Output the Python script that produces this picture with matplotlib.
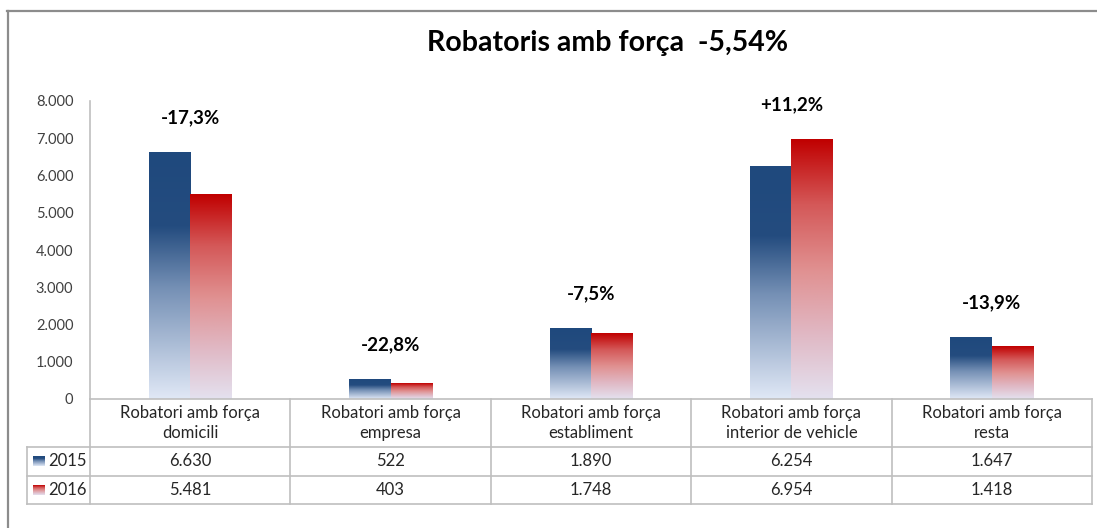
import numpy as np
import matplotlib
matplotlib.use('Agg')
import matplotlib.pyplot as plt
from matplotlib.colors import LinearSegmentedColormap
from matplotlib.lines import Line2D

plt.rcParams['font.family'] = ['Lato', 'DejaVu Sans']

CATEGORIES = ['Robatori amb força\ndomicili',
              'Robatori amb força\nempresa',
              'Robatori amb força\nestabliment',
              'Robatori amb força\ninterior de vehicle',
              'Robatori amb força\nresta']
YEARS = ['2015', '2016']
V2015 = [6630, 522, 1890, 6254, 1647]
V2016 = [5481, 403, 1748, 6954, 1418]
YTICKS = [0, 1000, 2000, 3000, 4000, 5000, 6000, 7000, 8000]

W, H = 1097, 528
GRID = '#bfbfbf'
TXT = '#262626'

BLUE_CM = LinearSegmentedColormap.from_list(
    'blue', [(0, '#e0e8f6'), (0.45, '#7590b5'), (0.70, '#244c7f'), (1, '#1f497d')])
RED_CM = LinearSegmentedColormap.from_list(
    'red', [(0, '#e4e1ef'), (0.25, '#e0b8c4'), (0.5, '#e09090'),
            (0.75, '#d45858'), (1, '#c00000')])


def fmt_thousands(v):
    return f'{v:,.0f}'.replace(',', '.')


def fmt_pct(p, nd=1, sign=True):
    s = f'{p:+.{nd}f}' if sign else f'{p:.{nd}f}'
    return s.replace('.', ',') + '%'


grad = np.linspace(0, 1, 256).reshape(-1, 1)

fig = plt.figure(figsize=(W / 100, H / 100), dpi=100)
ax = fig.add_axes([90 / W, 1 - 399 / H, (1092 - 90) / W, 298 / H])

bw = 0.207
for i, (a, b) in enumerate(zip(V2015, V2016)):
    for v, off, cm in ((a, -bw / 2, BLUE_CM), (b, bw / 2, RED_CM)):
        x0 = i + off - bw / 2
        ax.imshow(grad, cmap=cm, origin='lower', aspect='auto',
                  extent=[x0, x0 + bw, 0, v], interpolation='bilinear',
                  zorder=2)
    pct = (b - a) / a * 100
    lbl = fmt_pct(pct) if pct > 0 else fmt_pct(pct, sign=False)
    ax.annotate(lbl, (i, max(a, b)), xytext=(0, 25),
                textcoords='offset points', ha='center', va='center',
                fontsize=13.5, fontweight='bold', color='black')

ax.set_xlim(-0.5, len(CATEGORIES) - 0.5)
ax.set_ylim(0, 8000)
ax.set_yticks(YTICKS)
ax.set_yticklabels([fmt_thousands(t) for t in YTICKS], fontsize=10.5,
                   color='#404040')
ax.tick_params(axis='y', length=0, pad=12)
ax.set_xticks([])
for s in ('top', 'right', 'bottom'):
    ax.spines[s].set_visible(False)
ax.spines['left'].set_color(GRID)
ax.spines['left'].set_linewidth(1.2)

# data table under the axis
tr = ax.get_xaxis_transform()
rows = [0, -0.161, -0.258, -0.352]
left_x = -0.5 - 63 / 200.4
n = len(CATEGORIES)
lk = dict(color=GRID, lw=1.2, transform=tr, clip_on=False)
ax.plot([-0.5, n - 0.5], [rows[0]] * 2, **lk)
for r in rows[1:]:
    ax.plot([left_x, n - 0.5], [r, r], **lk)
for c in range(n + 1):
    ax.plot([c - 0.5] * 2, [rows[0], rows[3]], **lk)
ax.plot([left_x] * 2, [rows[1], rows[3]], **lk)

for i, cat in enumerate(CATEGORIES):
    ax.text(i, (rows[0] + rows[1]) / 2, cat, transform=tr, ha='center',
            va='center', fontsize=12, color=TXT, linespacing=1.35)
    ax.text(i, (rows[1] + rows[2]) / 2, fmt_thousands(V2015[i]),
            transform=tr, ha='center', va='center', fontsize=12, color=TXT)
    ax.text(i, (rows[2] + rows[3]) / 2, fmt_thousands(V2016[i]),
            transform=tr, ha='center', va='center', fontsize=12, color=TXT)

for k, (yr, cm) in enumerate(zip(YEARS, (BLUE_CM, RED_CM))):
    yc = (rows[1 + k] + rows[2 + k]) / 2
    ax.text(left_x + 21 / 200.4, yc, yr, transform=tr, ha='left',
            va='center', fontsize=12, color=TXT)
    ypix = 399 - yc * 298
    kax = fig.add_axes([33 / W, 1 - (ypix + 5) / H, 12 / W, 10 / H])
    kax.imshow(grad, cmap=cm, origin='lower', aspect='auto')
    kax.axis('off')

# title
t2015, t2016 = sum(V2015), sum(V2016)
tot = (t2016 - t2015) / t2015 * 100
fig.text(608 / W, 1 - 43 / H,
         'Robatoris amb força  ' + fmt_pct(tot, 2, sign=False),
         ha='center', va='center', fontsize=20.5, fontweight='bold',
         color='black')

# outer frame (left and top edges visible)
fig.add_artist(Line2D([8 / W, 8 / W], [0, 1 - 10.5 / H], color='#8c8c8c',
                      lw=1.6, transform=fig.transFigure))
fig.add_artist(Line2D([7.2 / W, 1], [1 - 10.5 / H, 1 - 10.5 / H],
                      color='#8c8c8c', lw=1.6, transform=fig.transFigure))

fig.savefig('out.png', dpi=100)
